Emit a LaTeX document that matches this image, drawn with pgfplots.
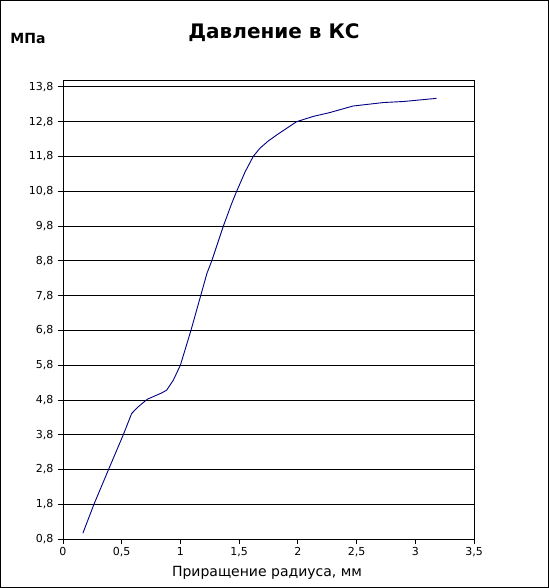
\documentclass[border=0pt]{standalone}
\usepackage{pgfplots}
\pgfplotsset{compat=1.18}
\usepackage{fontspec}
\setmainfont{DejaVu Sans}
\definecolor{curve}{RGB}{0,0,128}

\begin{document}
\begin{tikzpicture}
% outer frame of the chart
\draw[black, line width=0.8pt] (-62.5pt,-48.5pt) rectangle (485.5pt,538.5pt);
\begin{axis}[
    at={(0pt,0pt)}, anchor=origin,
    scale only axis,
    width=411pt, height=459pt,
    xmin=0, xmax=3.5,
    ymin=0.8, ymax=14.0,
    xtick={0,0.5,...,3.5},
    ytick={0.8,1.8,...,13.8},
    ymajorgrids,
    major grid style={black, line width=0.8pt},
    axis line style={black, line width=0.8pt},
    tick style={black, line width=0.8pt},
    tick align=outside,
    major tick length=5pt,
    xtick pos=bottom, ytick pos=left,
    /pgf/number format/.cd, use comma, assume math mode=true,
    /pgfplots/.cd,
    ticklabel style={font=\fontsize{11}{13}\selectfont},
    yticklabel style={xshift=-1pt},
    clip=false,
]
\addplot[curve, line width=0.9pt] coordinates {
    (0.17,0.97) (0.264,1.8) (0.386,2.78) (0.514,3.8) (0.585,4.41)
    (0.64,4.6) (0.718,4.82) (0.84,5.0) (0.883,5.08) (0.94,5.37)
    (1.0,5.8) (1.09,6.8) (1.173,7.8) (1.226,8.44) (1.267,8.8)
    (1.366,9.8) (1.437,10.45) (1.479,10.8) (1.55,11.35) (1.62,11.8)
    (1.678,12.04) (1.75,12.25) (1.834,12.45) (1.99,12.8) (2.13,12.95)
    (2.27,13.06) (2.47,13.25) (2.73,13.35) (2.9,13.38) (3.18,13.47)
};
\end{axis}
\node[font=\fontsize{20}{22}\selectfont\bfseries] at (211pt,506pt) {Давление в КС};
\node[font=\fontsize{14}{16}\selectfont\bfseries] at (-35pt,500pt) {МПа};
\node[font=\fontsize{14}{16}\selectfont] at (204pt,-34pt) {Приращение радиуса, мм};
\end{tikzpicture}
\end{document}
